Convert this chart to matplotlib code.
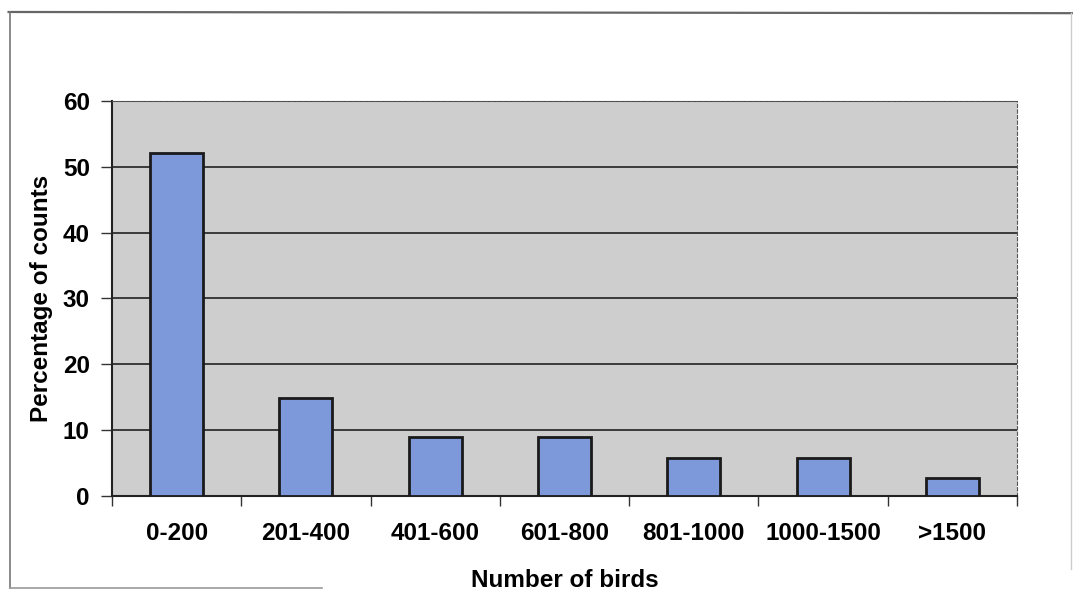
import matplotlib
matplotlib.use("Agg")
import matplotlib.pyplot as plt
from matplotlib.lines import Line2D

# share of counts per flock-size class
categories = ["0-200", "201-400", "401-600", "601-800", "801-1000", "1000-1500", ">1500"]
percentages = [52.1, 14.9, 9.0, 9.0, 5.8, 5.8, 2.7]
yticks = [0, 10, 20, 30, 40, 50, 60]

plt.rcParams["font.family"] = ["Liberation Sans", "DejaVu Sans"]
plt.rcParams["font.weight"] = "bold"
FS = 17.5

fig = plt.figure(figsize=(10.74, 5.99), dpi=100)
ax = fig.add_axes([0.1043, 0.172, 0.8427, 0.6594])
ax.set_facecolor("#cecece")

x = range(len(categories))
ax.bar(x, percentages, width=0.41, color="#7d99da", edgecolor="#1a1a1a", linewidth=2.0, zorder=3)

ax.set_xlim(-0.5, len(categories) - 0.5)
ax.set_ylim(0, 60)
ax.set_yticks(yticks)
ax.set_xticks(list(x))
ax.set_xticklabels(categories)
ax.yaxis.grid(True, color="#222222", linewidth=1.2, zorder=1)
ax.set_axisbelow(True)

# ticks between categories on the x axis
ax.set_xticks([i + 0.5 for i in range(-1, len(categories))], minor=True)
ax.tick_params(axis="x", which="major", length=0, pad=19, labelsize=FS)
ax.tick_params(axis="x", which="minor", length=7, width=1, color="#333333", direction="out")
ax.tick_params(axis="y", length=8, width=1, color="#333333", pad=8, labelsize=FS)

for s in ("left", "bottom"):
    ax.spines[s].set_color("#222222")
    ax.spines[s].set_linewidth(1.5)
for s in ("top", "right"):
    ax.spines[s].set_color("#555555")
    ax.spines[s].set_linewidth(0.8)
    ax.spines[s].set_linestyle((0, (3, 2)))

ax.set_xlabel("Number of birds", fontsize=FS, fontweight="bold", labelpad=17)
ax.set_ylabel("Percentage of counts", fontsize=FS, fontweight="bold", labelpad=7)

# outer chart frame
fig.add_artist(Line2D([0.008, 0.998], [0.98, 0.978], color="#666666", lw=1.6))
fig.add_artist(Line2D([0.009, 0.009], [0.98, 0.018], color="#777777", lw=1.2))
fig.add_artist(Line2D([0.009, 0.30], [0.018, 0.018], color="#999999", lw=1.2))
fig.add_artist(Line2D([0.997, 0.997], [0.978, 0.05], color="#cccccc", lw=1.0))

fig.savefig("out.png", dpi=100)
